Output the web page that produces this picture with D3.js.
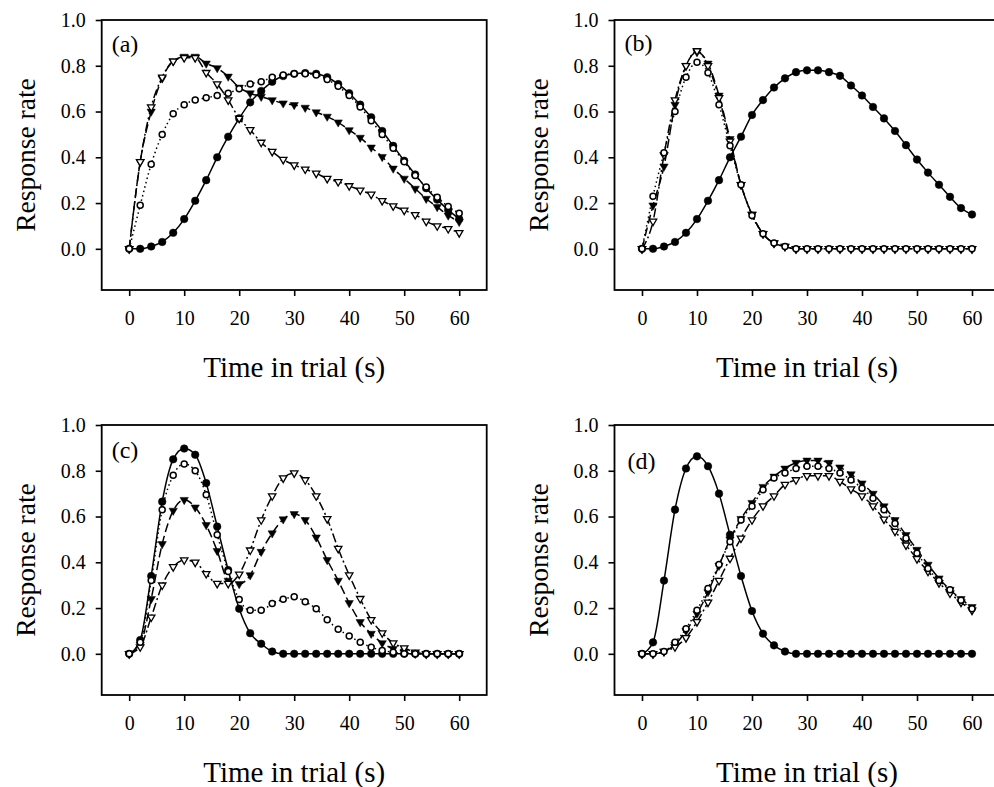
<!DOCTYPE html>
<html>
<head>
<meta charset="utf-8">
<script src="https://cdn.jsdelivr.net/npm/d3@7"></script>
<style>
  html, body { margin: 0; padding: 0; background: #fff; }
  svg { display: block; font-family: "Liberation Serif", "Times New Roman", serif; }
</style>
</head>
<body>
<svg id="chart" width="994" height="787"></svg>
<script>
// time points (s)
var times = [0, 2, 4, 6, 8, 10, 12, 14, 16, 18, 20, 22, 24, 26, 28, 30,
  32, 34, 36, 38, 40, 42, 44, 46, 48, 50, 52, 54, 56, 58, 60];
var xTicks = [0, 10, 20, 30, 40, 50, 60];
var yTicks = [0, 0.2, 0.4, 0.6, 0.8, 1.0];
var panelLabels = ["(a)", "(b)", "(c)", "(d)"];

// panel (a)
var aFilledCircle = [0, 0, 0.01, 0.03, 0.07, 0.13, 0.21, 0.30, 0.40, 0.49, 0.57, 0.64, 0.69, 0.73, 0.755, 0.765,
  0.768, 0.765, 0.75, 0.72, 0.68, 0.63, 0.575, 0.515, 0.45, 0.385, 0.325, 0.265, 0.215, 0.17, 0.13];
var aOpenCircle = [0, 0.19, 0.37, 0.50, 0.59, 0.63, 0.65, 0.66, 0.67, 0.68, 0.70, 0.72, 0.73, 0.75, 0.76, 0.765,
  0.765, 0.76, 0.74, 0.71, 0.67, 0.62, 0.56, 0.50, 0.44, 0.38, 0.32, 0.27, 0.225, 0.185, 0.155];
var aFilledTri = [0, 0.38, 0.60, 0.745, 0.82, 0.84, 0.84, 0.81, 0.79, 0.753, 0.705, 0.68, 0.665, 0.65, 0.636, 0.629,
  0.617, 0.597, 0.578, 0.553, 0.519, 0.486, 0.443, 0.402, 0.351, 0.307, 0.263, 0.219, 0.183, 0.146, 0.118];
var aOpenTri = [0, 0.38, 0.62, 0.75, 0.82, 0.835, 0.835, 0.77, 0.72, 0.65, 0.57, 0.52, 0.465, 0.425, 0.39, 0.366,
  0.348, 0.33, 0.307, 0.293, 0.275, 0.256, 0.238, 0.21, 0.187, 0.168, 0.149, 0.12, 0.10, 0.088, 0.07];

// panel (b)
var bFilledCircle = [0, 0, 0.01, 0.03, 0.07, 0.13, 0.21, 0.30, 0.40, 0.49, 0.585, 0.65, 0.705, 0.745, 0.772, 0.78,
  0.78, 0.772, 0.756, 0.714, 0.67, 0.62, 0.57, 0.515, 0.453, 0.39, 0.333, 0.28, 0.227, 0.178, 0.15];
var bOpenCircle = [0, 0.23, 0.42, 0.60, 0.75, 0.815, 0.77, 0.63, 0.45, 0.28, 0.146, 0.066, 0.025, 0.01, 0, 0,
  0, 0, 0, 0, 0, 0, 0, 0, 0, 0, 0, 0, 0, 0, 0];
var bFilledTri = [0, 0.19, 0.36, 0.63, 0.80, 0.86, 0.81, 0.67, 0.48, 0.28, 0.15, 0.066, 0.025, 0.01, 0, 0,
  0, 0, 0, 0, 0, 0, 0, 0, 0, 0, 0, 0, 0, 0, 0];
var bOpenTri = [0, 0.12, 0.41, 0.65, 0.80, 0.865, 0.80, 0.66, 0.47, 0.28, 0.15, 0.066, 0.025, 0.01, 0, 0,
  0, 0, 0, 0, 0, 0, 0, 0, 0, 0, 0, 0, 0, 0, 0];

// panel (c)
var cFilledCircle = [0, 0.06, 0.34, 0.665, 0.85, 0.897, 0.87, 0.746, 0.556, 0.366, 0.197, 0.09, 0.044, 0.01, 0, 0,
  0, 0, 0, 0, 0, 0, 0, 0, 0, 0, 0, 0, 0, 0, 0];
var cOpenCircle = [0, 0.05, 0.32, 0.63, 0.78, 0.83, 0.80, 0.695, 0.52, 0.36, 0.237, 0.19, 0.19, 0.22, 0.238, 0.249,
  0.227, 0.197, 0.149, 0.107, 0.078, 0.051, 0.029, 0.015, 0.007, 0, 0, 0, 0, 0, 0];
var cFilledTri = [0, 0.04, 0.24, 0.48, 0.626, 0.673, 0.64, 0.563, 0.45, 0.32, 0.305, 0.344, 0.446, 0.527, 0.588, 0.611,
  0.585, 0.509, 0.41, 0.32, 0.222, 0.139, 0.088, 0.047, 0.022, 0.01, 0, 0, 0, 0, 0];
var cOpenTri = [0, 0.03, 0.16, 0.30, 0.38, 0.41, 0.40, 0.35, 0.307, 0.307, 0.348, 0.453, 0.585, 0.69, 0.768, 0.79,
  0.76, 0.69, 0.59, 0.46, 0.344, 0.241, 0.149, 0.091, 0.047, 0.025, 0.007, 0, 0, 0, 0];

// panel (d)
var dFilledCircle = [0, 0.05, 0.32, 0.63, 0.81, 0.863, 0.82, 0.70, 0.52, 0.34, 0.187, 0.088, 0.037, 0.01, 0, 0,
  0, 0, 0, 0, 0, 0, 0, 0, 0, 0, 0, 0, 0, 0, 0];
var dOpenCircle = [0, 0, 0.01, 0.05, 0.11, 0.19, 0.285, 0.39, 0.49, 0.585, 0.645, 0.717, 0.768, 0.79, 0.81, 0.82,
  0.82, 0.81, 0.79, 0.76, 0.724, 0.68, 0.63, 0.57, 0.505, 0.44, 0.373, 0.32, 0.28, 0.234, 0.197];
var dFilledTri = [0, 0, 0.01, 0.04, 0.10, 0.175, 0.27, 0.385, 0.50, 0.59, 0.66, 0.73, 0.775, 0.81, 0.835, 0.845,
  0.845, 0.835, 0.815, 0.785, 0.745, 0.70, 0.645, 0.585, 0.52, 0.455, 0.39, 0.33, 0.28, 0.24, 0.205];
var dOpenTri = [0, 0, 0.01, 0.03, 0.07, 0.14, 0.225, 0.32, 0.417, 0.505, 0.585, 0.646, 0.69, 0.74, 0.76, 0.778,
  0.778, 0.778, 0.753, 0.72, 0.69, 0.646, 0.588, 0.535, 0.475, 0.415, 0.36, 0.31, 0.265, 0.225, 0.19];

var panelData = [
  [aFilledCircle, aFilledTri, aOpenTri, aOpenCircle],
  [bFilledCircle, bFilledTri, bOpenTri, bOpenCircle],
  [cFilledCircle, cFilledTri, cOpenTri, cOpenCircle],
  [dFilledCircle, dFilledTri, dOpenTri, dOpenCircle]
];

// one style per series slot, same order as panelData rows
var seriesStyles = [
  {marker: "circle", filled: true, dash: null},
  {marker: "tri", filled: true, dash: "9,4"},
  {marker: "tri", filled: false, dash: "9,3,2,3"},
  {marker: "circle", filled: false, dash: "1.5,3"}
];

var panelPos = [
  {left: 101.7, top: 20, labelDx: 10, labelDy: 32},
  {left: 614.5, top: 20, labelDx: 10, labelDy: 31},
  {left: 101.7, top: 425, labelDx: 10, labelDy: 33},
  {left: 614.5, top: 425, labelDx: 13, labelDy: 44}
];

var plotW = 385, plotH = 270;
var svg = d3.select("#chart");

function drawPanel(index) {
  var pos = panelPos[index];
  var g = svg.append("g").attr("transform", "translate(" + pos.left + "," + pos.top + ")");

  var x = d3.scaleLinear().domain([-5, 65]).range([0, plotW]);
  var y = d3.scaleLinear().domain([-0.18, 1.0]).range([plotH, 0]);

  var xAxis = g.append("g")
    .attr("transform", "translate(0," + plotH + ")")
    .call(d3.axisBottom(x).tickValues(xTicks).tickSize(6).tickPadding(15).tickFormat(d3.format("d")));
  var yAxis = g.append("g")
    .call(d3.axisLeft(y).tickValues(yTicks).tickSize(6).tickPadding(10).tickFormat(d3.format(".1f")));

  [xAxis, yAxis].forEach(function (ax) {
    ax.select(".domain").remove();
    ax.selectAll(".tick line").attr("stroke", "#000").attr("stroke-width", 1.6);
    ax.selectAll(".tick text")
      .attr("fill", "#000")
      .style("font-family", "'Liberation Serif', 'Times New Roman', serif")
      .style("font-size", "20px");
  });

  g.append("rect")
    .attr("width", plotW)
    .attr("height", plotH)
    .attr("fill", "none")
    .attr("stroke", "#000")
    .attr("stroke-width", 1.8);

  var line = d3.line()
    .x(function (d, i) { return x(times[i]); })
    .y(function (d) { return y(d); })
    .curve(d3.curveMonotoneX);

  var triangle = d3.symbol().type(d3.symbolTriangle);

  panelData[index].forEach(function (values, s) {
    var st = seriesStyles[s];
    var sg = g.append("g");
    sg.append("path")
      .datum(values)
      .attr("d", line)
      .attr("fill", "none")
      .attr("stroke", "#000")
      .attr("stroke-width", 1.5)
      .attr("stroke-dasharray", st.dash);

    var pts = sg.selectAll(".pt")
      .data(values)
      .enter();
    if (st.marker === "circle") {
      pts.append("circle")
        .attr("cx", function (d, i) { return x(times[i]); })
        .attr("cy", function (d) { return y(d); })
        .attr("r", st.filled ? 3.8 : 3.0)
        .attr("fill", st.filled ? "#000" : "#fff")
        .attr("stroke", "#000")
        .attr("stroke-width", st.filled ? 0.5 : 1.5);
    } else {
      pts.append("path")
        .attr("d", triangle.size(st.filled ? 30 : 24)())
        .attr("transform", function (d, i) {
          return "translate(" + x(times[i]) + "," + y(d) + ") rotate(180)";
        })
        .attr("fill", st.filled ? "#000" : "#fff")
        .attr("stroke", "#000")
        .attr("stroke-width", st.filled ? 0.5 : 1.3);
    }
  });

  g.append("text")
    .attr("x", pos.labelDx)
    .attr("y", pos.labelDy)
    .style("font-size", "24px")
    .text(panelLabels[index]);

  g.append("text")
    .attr("x", x(30))
    .attr("y", plotH + 87)
    .attr("text-anchor", "middle")
    .style("font-size", "29px")
    .text("Time in trial (s)");

  g.append("text")
    .attr("transform", "translate(-67," + (plotH / 2) + ") rotate(-90)")
    .attr("text-anchor", "middle")
    .style("font-size", "27.5px")
    .text("Response rate");
}

for (var i = 0; i < 4; ++i) {
  drawPanel(i);
}
</script>
</body>
</html>
